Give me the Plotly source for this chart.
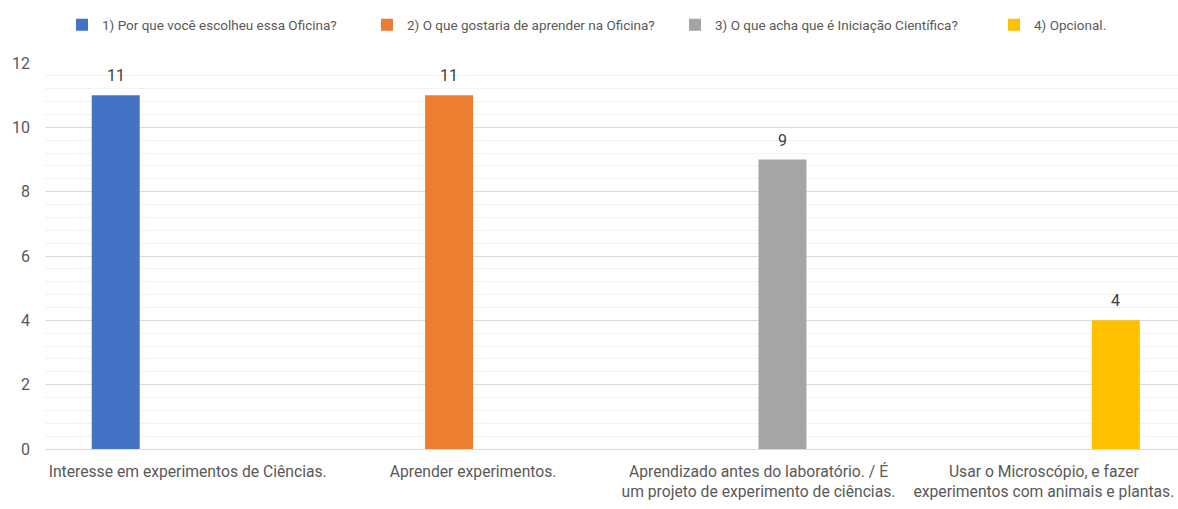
import plotly.graph_objects as go

categories = [
    "Interesse em experimentos de Ciências.",
    "Aprender experimentos.",
    "Aprendizado antes do laboratório. / É<br>um projeto de experimento de ciências.",
    "Usar o Microscópio, e fazer<br>experimentos com animais e plantas.",
]
series_names = [
    "1) Por que você escolheu essa Oficina?",
    "2) O que gostaria de aprender na Oficina?",
    "3) O que acha que é Iniciação Científica?",
    "4) Opcional.",
]
s1 = [11, None, None, None]
s2 = [None, 11, None, None]
s3 = [None, None, 9, None]
s4 = [None, None, None, 4]
colors = ["#4472C4", "#ED7D31", "#A5A5A5", "#FFC000"]

FONT = "Roboto"
W, H = 1178, 509
ML, MR, MT, MB = 45, 0, 63, 60
XR = [-0.5, 3.47]
BARGAP = 0.3275
LEGEND_X = [62, 367, 675, 994]  # left edge of each legend entry, px

fig = go.Figure()
all_series = [s1, s2, s3, s4]
legend_ids = ["legend", "legend2", "legend3", "legend4"]
for name, vals, col, lid in zip(series_names, all_series, colors, legend_ids):
    fig.add_trace(go.Bar(
        x=categories, y=vals, name=name, marker_color=col, marker_line_width=0,
        legend=lid, showlegend=True,
    ))

# data labels above the bars
cat_px = (W - ML - MR) / (XR[1] - XR[0])
bar_px = cat_px * (1 - BARGAP) / len(all_series)
annotations = []
for i, vals in enumerate(all_series):
    for c, v in zip(categories, vals):
        if v is None:
            continue
        annotations.append(dict(
            x=c, y=v, xref="x", yref="y", text=str(v), showarrow=False,
            xanchor="center", yanchor="bottom", yshift=8,
            xshift=(i - (len(all_series) - 1) / 2) * bar_px,
            font=dict(size=16, color="#404040", family=FONT),
        ))

legends = {}
for lid, lx in zip(legend_ids, LEGEND_X):
    legends[lid] = dict(
        orientation="h", xref="container", yref="container",
        x=lx / W, xanchor="left", y=1 - 25 / H, yanchor="middle",
        font=dict(size=13.5, color="#595959", family=FONT),
        itemwidth=30, bgcolor="rgba(0,0,0,0)", visible=True,
    )

fig.update_layout(
    width=W, height=H,
    margin=dict(l=ML, r=MR, t=MT, b=MB, autoexpand=False),
    paper_bgcolor="white", plot_bgcolor="white",
    barmode="group", bargap=BARGAP, bargroupgap=0,
    font=dict(family=FONT, color="#595959", size=16),
    annotations=annotations,
    showlegend=True,
    **legends,
)
fig.update_xaxes(
    type="category", range=XR, showgrid=False, showline=False, automargin=False,
    tickfont=dict(size=15.7, color="#595959", family=FONT), ticks="",
    ticklabelstandoff=11,
)
fig.update_yaxes(
    range=[0, 12], dtick=2, showgrid=True, gridcolor="#D9D9D9", gridwidth=1,
    zeroline=True, zerolinecolor="#D9D9D9", zerolinewidth=1, automargin=False,
    minor=dict(dtick=0.4, showgrid=True, gridcolor="#F2F2F2", gridwidth=1),
    tickfont=dict(size=16, color="#595959", family=FONT), ticklabelstandoff=14,
)
fig.write_html("out.html", config={"displayModeBar": False},
               post_script="document.body.style.margin='0';")
